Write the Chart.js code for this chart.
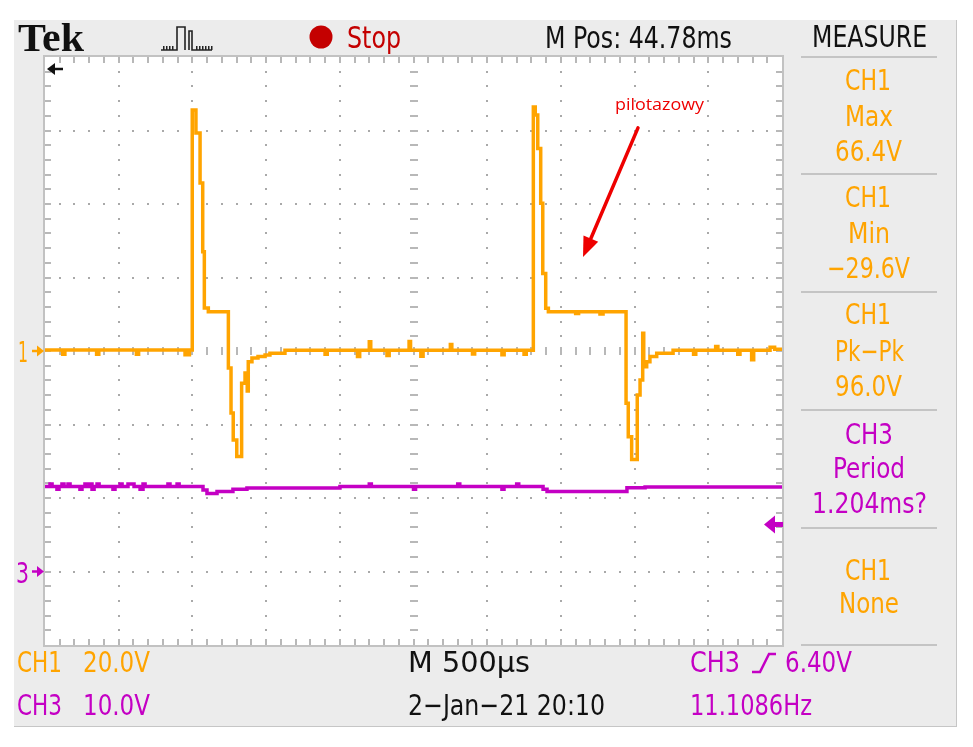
<!DOCTYPE html>
<html><head><meta charset="utf-8">
<script src="https://cdn.jsdelivr.net/npm/chart.js@4.4.1/dist/chart.umd.min.js"></script>
<style>
html,body{margin:0;padding:0;background:#fff;width:973px;height:747px;overflow:hidden;position:relative;}
#panel{position:absolute;left:14px;top:20px;width:942px;height:706px;background:#ececec;border-right:1px solid #c6c6c6;border-bottom:1px solid #c6c6c6;}
#c{position:absolute;left:0;top:0;}
.t{position:absolute;white-space:nowrap;line-height:1;transform-origin:0 0;}
</style></head><body>
<div id="panel"></div>
<canvas id="c" width="973" height="747"></canvas>
<script>
// ---- data ----
// time in ms (0..5 ms on screen, 500 us/div), CH1 in volts (20 V/div), CH3 in volts (10 V/div)
const ch1Time = [0,0.12,0.135,0.35,0.365,0.62,0.635,0.95,0.96,0.97,0.98,
  0.999,1.024,1.052,1.070,1.081,1.108,1.244,1.262,1.277,1.301,1.334,1.357,1.372,1.379,1.404,1.445,1.493,1.526,1.628,
  1.90,1.915,2.12,2.135,2.20,2.21,2.32,2.335,2.47,2.48,2.55,2.565,2.75,2.76,2.90,2.915,3.10,3.115,3.25,3.265,
  3.313,3.326,3.343,3.363,3.377,3.397,3.415,3.60,3.62,3.765,3.786,3.942,3.957,3.980,4.018,4.037,4.055,4.062,4.082,4.104,4.150,4.261,
  4.40,4.415,4.55,4.565,4.70,4.715,4.794,4.808,4.919,4.95,5.0];
const ch1Volts = [0.3,-0.9,0.3,-0.9,0.3,-0.9,0.3,-1.0,0.3,-1.0,0.3,
  65.6,59.3,45.7,27.0,11.7,10.7,-4.6,-16.9,-24.2,-28.7,-8.8,-6.0,-10.9,-2.9,-1.9,-1.5,-1.1,-0.6,0.2,
  -0.9,0.2,-1.5,0.2,2.5,0.2,-1.2,0.2,2.6,0.2,-1.4,0.2,1.8,0.2,-0.8,0.2,-1.0,0.2,-0.9,0.2,
  66.4,64.2,55.1,40.2,21.1,11.6,10.7,10.2,10.7,10.1,10.7,-14.2,-23.3,-29.5,-12.0,-7.9,4.8,-4.3,-2.9,-1.5,-0.6,0.2,
  -0.9,0.2,1.2,0.2,-0.9,0.2,-2.4,0.2,1.0,0.5,0.5];
const ch3Time = [0,0.034,0.048,0.081,0.095,0.115,0.129,0.156,0.170,0.237,0.251,0.271,0.285,0.305,0.319,0.333,0.353,0.367,
  0.461,0.475,0.509,0.523,0.563,0.604,0.645,0.665,0.679,0.834,0.848,0.896,0.910,
  1.072,1.099,1.167,1.275,1.370,2.001,2.2,2.214,2.5,2.514,2.8,2.814,3.1,3.114,3.2,3.214,
  3.379,3.406,3.948,4.071,5.0];
const ch3Volts = [11.55,11.9,11.55,11.2,11.55,11.9,11.55,11.9,11.55,11.2,11.55,11.9,11.55,11.9,11.2,11.55,11.9,11.55,
  11.2,11.55,11.9,11.55,11.9,11.55,11.2,11.9,11.55,11.9,11.55,11.9,11.55,
  11.1,10.6,10.9,11.2,11.35,11.55,11.9,11.55,11.2,11.55,11.9,11.55,11.2,11.55,11.9,11.55,
  11.2,10.9,11.4,11.5,11.5];
const timeRange = [0, 5];        // ms across 10 divisions
const ch1Range = [-80, 80];      // 20 V/div, ground at centre
const ch3Range = [-10, 70];      // 10 V/div, ground 3 div below centre
const ch3TriggerLevel = 6.40;    // V
const arrowTail = [4.023, 60.7]; // annotation arrow (ms, CH1 volts)
const arrowTip = [3.650, 25.6];

const measureTexts = [["CH1","Max","66.4V"],["CH1","Min","\u221229.6V"],["CH1","Pk\u2212Pk","96.0V"],["CH3","Period","1.204ms?"],["CH1","None"]];

const ORANGE = '#ffa400', PURPLE = '#c400c4', REDS = '#c40000';

const pts = (t, v) => t.map((x, i) => ({x: x, y: v[i]}));

const scopeGrid = {
  id: 'scopeGrid',
  beforeDatasetsDraw(chart) {
    const {ctx, chartArea: a} = chart;
    const L = a.left, R = a.right, T = a.top, B = a.bottom;
    const dx = (R - L) / 10, dy = (B - T) / 8;
    ctx.save();
    ctx.fillStyle = '#fff'; ctx.fillRect(L, T, R - L, B - T);
    ctx.fillStyle = '#a9a9a9';
    for (let k = 1; k < 8; k++) { if (k === 4) continue; const y = T + k * dy;
      for (let j = 1; j < 50; j++) { const x = L + j * dx / 5; ctx.fillRect(Math.round(x) - 1, Math.round(y) - 1, 2, 2); } }
    for (let k = 1; k < 10; k++) { if (k === 5) continue; const x = L + k * dx;
      for (let j = 1; j < 40; j++) { const y = T + j * dy / 5; ctx.fillRect(Math.round(x) - 1, Math.round(y) - 1, 2, 2); } }
    ctx.fillStyle = '#b8b8b8';
    const cx = L + 5 * dx, cy = T + 4 * dy;
    for (let j = 1; j < 50; j++) { const x = L + j * dx / 5;
      ctx.fillRect(Math.round(x) - 1, Math.round(cy) - 4, 2, 8);
      ctx.fillRect(Math.round(x) - 1, T, 2, 6);
      ctx.fillRect(Math.round(x) - 1, B - 6, 2, 6); }
    for (let j = 1; j < 40; j++) { const y = T + j * dy / 5;
      ctx.fillRect(Math.round(cx) - 4, Math.round(y) - 1, 8, 2);
      ctx.fillRect(L, Math.round(y) - 1, 6, 2);
      ctx.fillRect(R - 6, Math.round(y) - 1, 6, 2); }
    ctx.strokeStyle = '#c2c2c2'; ctx.lineWidth = 2;
    ctx.strokeRect(L - 1, T - 1, R - L + 2, B - T + 2);
    // measure panel separators
    ctx.fillStyle = '#c4c4c4';
    [57, 174, 292, 410, 528, 645].forEach(y => ctx.fillRect(801, y - 1, 136, 2));
    ctx.restore();
  },
  afterDatasetsDraw(chart) {
    const {ctx, chartArea: a, scales} = chart;
    ctx.save();
    const tri = (tipX, y, dir, len, half, color, shaftLen, shaftW) => {
      ctx.fillStyle = color;
      ctx.beginPath(); ctx.moveTo(tipX, y); ctx.lineTo(tipX - dir * len, y - half); ctx.lineTo(tipX - dir * len, y + half); ctx.closePath(); ctx.fill();
      ctx.fillRect(dir > 0 ? tipX - len - shaftLen : tipX + len, y - shaftW / 2, shaftLen, shaftW);
    };
    // ground markers
    const y1 = scales.y1.getPixelForValue(0), y3 = scales.y3.getPixelForValue(0);
    tri(a.left - 1, y1, 1, 7, 5.5, ORANGE, 5, 2.5);
    tri(a.left - 1, y3, 1, 7, 5.5, PURPLE, 5, 2.5);
    // horizontal position marker (top-left)
    tri(a.left + 2, a.top + 12, -1, 8, 6, '#111', 8, 2.5);
    // trigger level marker (right)
    tri(a.right - 18, scales.y3.getPixelForValue(ch3TriggerLevel), -1, 11, 9, PURPLE, 8, 5);
    // red annotation arrow
    const tx = scales.x.getPixelForValue(arrowTail[0]), ty = scales.y1.getPixelForValue(arrowTail[1]);
    const hx = scales.x.getPixelForValue(arrowTip[0]), hy = scales.y1.getPixelForValue(arrowTip[1]);
    const ang = Math.atan2(hy - ty, hx - tx), hl = 20, hw = 8;
    const bx = hx - hl * Math.cos(ang), by = hy - hl * Math.sin(ang);
    ctx.strokeStyle = '#ee0000'; ctx.lineWidth = 3.5; ctx.lineCap = 'round';
    ctx.beginPath(); ctx.moveTo(tx, ty); ctx.lineTo(bx, by); ctx.stroke();
    ctx.fillStyle = '#ee0000'; ctx.beginPath(); ctx.moveTo(hx, hy);
    ctx.lineTo(bx + hw * Math.sin(ang), by - hw * Math.cos(ang));
    ctx.lineTo(bx - hw * Math.sin(ang), by + hw * Math.cos(ang)); ctx.closePath(); ctx.fill();
    // run-state circle
    ctx.fillStyle = REDS; ctx.beginPath(); ctx.arc(321, 37, 11.5, 0, Math.PI * 2); ctx.fill();
    // acquisition icon
    ctx.strokeStyle = '#222'; ctx.lineWidth = 1.6; ctx.lineCap = 'butt';
    ctx.beginPath();
    ctx.moveTo(161, 50); ctx.lineTo(177, 50); ctx.lineTo(177, 27); ctx.lineTo(185, 27); ctx.lineTo(185, 50);
    ctx.moveTo(189, 50); ctx.lineTo(189, 31); ctx.lineTo(192, 31); ctx.lineTo(192, 50); ctx.lineTo(212, 50);
    ctx.stroke();
    ctx.fillStyle = '#222';
    [163,166,169,172,196,199,202,205,208,211].forEach(x => ctx.fillRect(x, 46, 1.5, 4));
    // trigger slope symbol
    ctx.strokeStyle = PURPLE; ctx.lineWidth = 2.5;
    ctx.beginPath(); ctx.moveTo(752, 672); ctx.lineTo(760, 672); ctx.lineTo(769, 654); ctx.lineTo(776, 654); ctx.stroke();
    ctx.restore();
  }
};

new Chart(document.getElementById('c'), {
  type: 'line',
  data: { datasets: [
    { label: 'CH3', data: pts(ch3Time, ch3Volts), yAxisID: 'y3', borderColor: PURPLE, borderWidth: 3.5, stepped: true, pointRadius: 0, fill: false },
    { label: 'CH1', data: pts(ch1Time, ch1Volts), yAxisID: 'y1', borderColor: ORANGE, borderWidth: 3.5, stepped: true, pointRadius: 0, fill: false }
  ]},
  options: {
    responsive: false, animation: false, devicePixelRatio: 1,
    layout: { padding: { left: 45, top: 57, right: 191, bottom: 102 } },
    plugins: { legend: { display: false }, tooltip: { enabled: false } },
    scales: {
      x: { type: 'linear', min: timeRange[0], max: timeRange[1], display: false },
      y1: { type: 'linear', min: ch1Range[0], max: ch1Range[1], display: false },
      y3: { type: 'linear', min: ch3Range[0], max: ch3Range[1], display: false }
    }
  },
  plugins: [scopeGrid]
});

// ---- real text ----
const SCOPE = { family: '"DejaVu Sans Condensed","DejaVu Sans",sans-serif', size: 29, capMid: 0.4815 };
const TOPF = { family: '"DejaVu Sans Condensed","DejaVu Sans",sans-serif', size: 30, capMid: 0.4815 };
const TEK = { family: '"Liberation Serif",serif', size: 40, capMid: 0.506, weight: 'bold' };
const NOTE = { family: '"Open Sans",sans-serif', size: 16, capMid: 0.531 };
function placeText(str, x1, x2, cy, color, f) {
  const el = document.createElement('div');
  el.className = 't'; el.textContent = str;
  el.style.fontFamily = f.family; el.style.fontSize = f.size + 'px';
  el.style.fontWeight = f.weight || 'normal'; el.style.color = color;
  document.body.appendChild(el);
  const w = el.getBoundingClientRect().width;
  el.style.left = x1 + 'px';
  el.style.top = (cy - f.capMid * f.size) + 'px';
  el.style.transform = 'scaleX(' + ((x2 - x1) / w).toFixed(3) + ')';
}
placeText('Tek', 18, 84, 38, '#111', TEK);
placeText('Stop', 347, 401, 37, REDS, TOPF);
placeText('M Pos: 44.78ms', 545, 732, 37, '#111', TOPF);
placeText('MEASURE', 812, 927, 36, '#111', TOPF);
// measurement panel
const measureCY = [[80,116,151],[197,233,268],[314,351,386],[434,468,503],[570,603]];
const measureX = {'CH1':[845,891],'CH3':[845,893],'Max':[845,893],'Min':[848,890],'Pk\u2212Pk':[835,904],'Period':[833,905],'None':[839,899],
  '66.4V':[835,902],'\u221229.6V':[827,910],'96.0V':[835,902],'1.204ms?':[812,927]};
measureTexts.forEach((lines, i) => {
  const col = lines[0] === 'CH3' ? PURPLE : ORANGE;
  lines.forEach((s, j) => placeText(s, measureX[s][0], measureX[s][1], measureCY[i][j], col, SCOPE));
});
// bottom status
placeText('CH1', 17, 62, 662, ORANGE, SCOPE);
placeText('20.0V', 83, 150, 662, ORANGE, SCOPE);
placeText('CH3', 17, 62, 705, PURPLE, SCOPE);
placeText('10.0V', 83, 150, 705, PURPLE, SCOPE);
placeText('M 500\u00b5s', 408, 530, 662, '#111', SCOPE);
placeText('2\u2212Jan\u221221 20:10', 408, 605, 705, '#111', SCOPE);
placeText('CH3', 690, 740, 662, PURPLE, SCOPE);
placeText('6.40V', 785, 852, 662, PURPLE, SCOPE);
placeText('11.1086Hz', 690, 812, 705, PURPLE, SCOPE);
// channel ground labels
placeText('1', 18, 28, 352, ORANGE, SCOPE);
placeText('3', 16, 29, 573, PURPLE, SCOPE);
// annotation
placeText('pilotazowy', 615, 704, 104, '#ee0000', NOTE);
</script>
</body></html>
